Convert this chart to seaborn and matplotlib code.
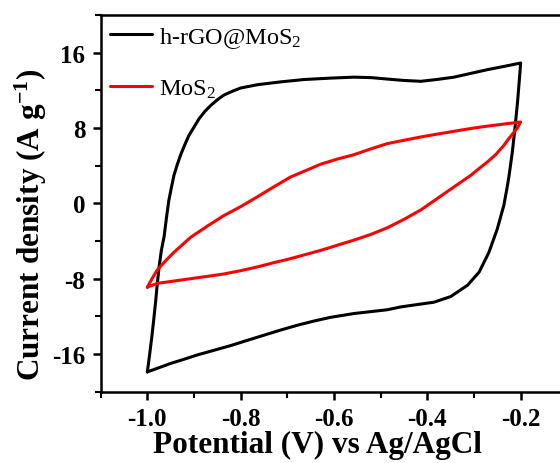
import matplotlib
matplotlib.use("Agg")
import matplotlib.pyplot as plt
import seaborn as sns
import pandas as pd
from matplotlib.ticker import MultipleLocator

# h-rGO@MoS2 cyclic voltammogram (closed loop)
hrgo_potential = [-1.0, -0.995, -0.99, -0.986, -0.982, -0.979, -0.975, -0.97, -0.964, -0.959,
                  -0.954, -0.948, -0.943, -0.936, -0.929, -0.92, -0.911, -0.9, -0.889, -0.877,
                  -0.864, -0.85, -0.836, -0.818, -0.8, -0.764, -0.714, -0.664, -0.607, -0.557,
                  -0.52, -0.486, -0.45, -0.414, -0.38, -0.343, -0.307, -0.271, -0.235, -0.2,
                  -0.204, -0.207, -0.212, -0.218, -0.225, -0.229, -0.236, -0.25, -0.268, -0.289,
                  -0.314, -0.35, -0.386, -0.429, -0.457, -0.486, -0.557, -0.607, -0.643, -0.679,
                  -0.714, -0.75, -0.786, -0.821, -0.857, -0.893, -0.921, -0.95, -0.975, -1.0]
hrgo_current = [-17.9, -16.0, -14.0, -12.2, -10.3, -8.7, -6.8, -5.0, -3.5, -1.5,
                0.3, 1.8, 2.97, 4.1, 5.1, 6.2, 7.2, 8.1, 9.0, 9.75,
                10.4, 11.0, 11.5, 11.9, 12.25, 12.6, 12.9, 13.15, 13.3, 13.4,
                13.35, 13.2, 13.05, 12.96, 13.15, 13.4, 13.8, 14.2, 14.55, 14.9,
                12.4, 10.6, 8.1, 5.4, 2.9, 1.7, -0.2, -2.7, -5.2, -7.3,
                -8.7, -9.9, -10.5, -10.8, -11.0, -11.3, -11.7, -12.1, -12.5, -12.95,
                -13.45, -14.0, -14.55, -15.1, -15.6, -16.1, -16.55, -17.0, -17.45, -17.9]

# MoS2 cyclic voltammogram (closed loop)
mos2_potential = [-1.0, -0.99, -0.979, -0.961, -0.943, -0.925, -0.907, -0.871, -0.836, -0.8,
                  -0.764, -0.729, -0.693, -0.65, -0.629, -0.593, -0.557, -0.52, -0.486, -0.45,
                  -0.414, -0.379, -0.343, -0.307, -0.271, -0.236, -0.2,
                  -0.207, -0.214, -0.225, -0.236, -0.253, -0.271, -0.289, -0.307, -0.343,
                  -0.379, -0.414, -0.45, -0.486, -0.521, -0.557, -0.593, -0.629, -0.693,
                  -0.729, -0.764, -0.8, -0.836, -0.871, -0.907, -0.943, -0.979, -1.0]
mos2_current = [-8.9, -8.0, -7.1, -6.1, -5.2, -4.4, -3.6, -2.4, -1.3, -0.35,
                0.7, 1.75, 2.8, 3.7, 4.15, 4.7, 5.17, 5.8, 6.34, 6.7,
                7.05, 7.35, 7.65, 7.95, 8.2, 8.42, 8.64,
                8.0, 7.58, 6.9, 6.16, 5.2, 4.4, 3.7, 2.97, 1.74,
                0.5, -0.7, -1.7, -2.6, -3.3, -3.9, -4.45, -5.0, -5.87,
                -6.3, -6.75, -7.15, -7.5, -7.75, -8.0, -8.25, -8.5, -8.9]

series_labels = ["h-rGO@MoS$_2$", "MoS$_2$"]
series_colors = ["#000000", "#ff0000"]

x_ticks = [-1.0, -0.8, -0.6, -0.4, -0.2]
x_ticklabels = ["-1.0", "-0.8", "-0.6", "-0.4", "-0.2"]
y_ticks = [16, 8, 0, -8, -16]
y_ticklabels = ["16", "8", "0", "-8", "-16"]

sns.set_style("ticks")
plt.rcParams["font.family"] = ["Liberation Serif", "DejaVu Serif"]
plt.rcParams["mathtext.fontset"] = "custom"
plt.rcParams["mathtext.rm"] = "Liberation Serif"
plt.rcParams["mathtext.it"] = "Liberation Serif:italic"
plt.rcParams["mathtext.bf"] = "Liberation Serif:bold"
plt.rcParams["text.color"] = "black"
plt.rcParams["axes.labelcolor"] = "black"
plt.rcParams["xtick.color"] = "black"
plt.rcParams["ytick.color"] = "black"

fig = plt.figure(figsize=(5.6, 4.64), dpi=100)
ax = fig.add_axes([0.1798, 0.1537, 0.8333, 0.8118])

df1 = pd.DataFrame({"x": hrgo_potential, "y": hrgo_current})
df2 = pd.DataFrame({"x": mos2_potential, "y": mos2_current})
sns.lineplot(data=df1, x="x", y="y", sort=False, estimator=None, color=series_colors[0],
             linewidth=2.2, label=series_labels[0], ax=ax)
sns.lineplot(data=df2, x="x", y="y", sort=False, estimator=None, color=series_colors[1],
             linewidth=2.2, label=series_labels[1], ax=ax)
for ln in ax.get_lines():
    ln.set_solid_joinstyle("round")

ax.set_xlim(-1.1, -0.1)
ax.set_ylim(-20, 20)
ax.set_xticks(x_ticks)
ax.set_xticklabels(x_ticklabels)
ax.set_yticks(y_ticks)
ax.set_yticklabels(y_ticklabels)
ax.xaxis.set_minor_locator(MultipleLocator(0.1))
ax.yaxis.set_minor_locator(MultipleLocator(4))

for sp in ax.spines.values():
    sp.set_linewidth(1.8)
    sp.set_color("black")
ax.tick_params(which="major", direction="out", length=6, width=1.8, labelsize=18)
ax.tick_params(axis="x", which="major", pad=5)
ax.tick_params(axis="y", which="major", pad=5)
ax.tick_params(which="minor", direction="out", length=4, width=1.5)
for lab in ax.get_xticklabels() + ax.get_yticklabels():
    lab.set_fontweight("bold")

ax.set_xlabel("Potential (V) vs Ag/AgCl", fontsize=22.5, fontweight="bold", labelpad=0)
ax.set_ylabel(r"Current density (A g$\mathbf{^{-1}}$)", fontsize=22.5, fontweight="bold", labelpad=2)
ax.xaxis.label.set_x(0.465)
ax.yaxis.label.set_y(0.445)

leg = ax.legend(loc="upper left", frameon=False, fontsize=17.5, handlelength=1.7,
                labelspacing=1.15, borderpad=0.35, borderaxespad=0.05, handletextpad=0.3)

fig.savefig("out.png", dpi=100)
